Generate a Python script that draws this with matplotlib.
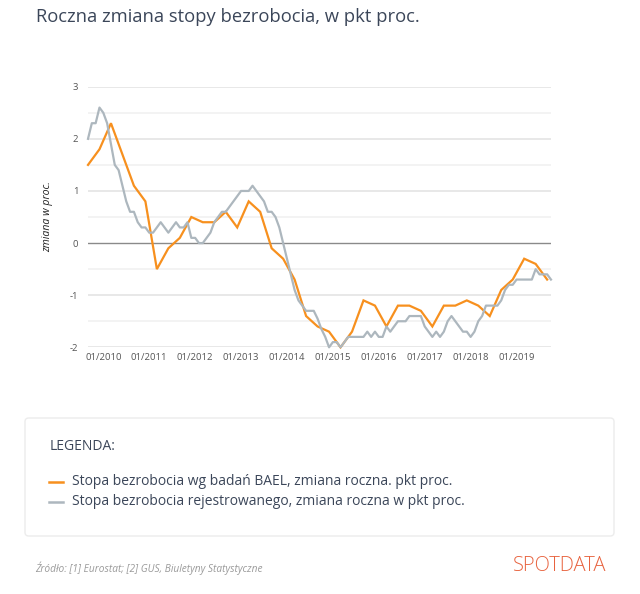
import matplotlib.pyplot as plt
from matplotlib.patches import FancyBboxPatch
import numpy as np

plt.rcParams['font.family'] = ['Open Sans', 'DejaVu Sans']

# BAEL, quarterly, first point 09/2009
bael = [1.5, 1.8, 2.3, 1.7, 1.1, 0.8, -0.5, -0.1, 0.1, 0.5,
        0.4, 0.4, 0.6, 0.3, 0.8, 0.6, -0.1, -0.3, -0.7, -1.4,
        -1.6, -1.7, -2.0, -1.7, -1.1, -1.2, -1.6, -1.2, -1.2, -1.3,
        -1.6, -1.2, -1.2, -1.1, -1.2, -1.4, -0.9, -0.7, -0.3, -0.4,
        -0.7]

# registered unemployment, monthly, first point 09/2009
rejestr = [2.0, 2.3, 2.3, 2.6, 2.5, 2.3, 1.9, 1.5, 1.4, 1.1,
           0.8, 0.6, 0.6, 0.4, 0.3, 0.3, 0.2, 0.2, 0.3, 0.4,
           0.3, 0.2, 0.3, 0.4, 0.3, 0.3, 0.4, 0.1, 0.1, 0.0,
           0.0, 0.1, 0.2, 0.4, 0.5, 0.6, 0.6, 0.7, 0.8, 0.9,
           1.0, 1.0, 1.0, 1.1, 1.0, 0.9, 0.8, 0.6, 0.6, 0.5,
           0.3, 0.0, -0.3, -0.6, -0.9, -1.1, -1.2, -1.3, -1.3, -1.3,
           -1.45, -1.65, -1.8, -2.0, -1.9, -1.9, -2.0, -1.9, -1.8, -1.8,
           -1.8, -1.8, -1.8, -1.7, -1.8, -1.7, -1.8, -1.8, -1.6, -1.7,
           -1.6, -1.5, -1.5, -1.5, -1.4, -1.4, -1.4, -1.4, -1.6, -1.7,
           -1.8, -1.7, -1.8, -1.7, -1.5, -1.4, -1.5, -1.6, -1.7, -1.7,
           -1.8, -1.7, -1.5, -1.4, -1.2, -1.2, -1.2, -1.2, -1.1, -0.9,
           -0.8, -0.8, -0.7, -0.7, -0.7, -0.7, -0.7, -0.5, -0.6, -0.6,
           -0.6, -0.7]

years = list(range(2010, 2020))
tick_labels = ['01/%d' % y for y in years]
start = 2009 + 8 / 12

x_bael = start + 0.25 * np.arange(len(bael))
x_rej = start + np.arange(len(rejestr)) / 12

orange = '#f7901e'
grey = '#adb7be'
textcol = '#3b4659'

fig = plt.figure(figsize=(6.4, 5.94), dpi=100)
ax = fig.add_axes([0.1375, 0.4153, 0.7234, 0.4387])

for v in np.arange(-2, 3.01, 0.5):
    if v == 0:
        continue
    c = '#e4e4e4' if v == int(v) else '#f1f1f1'
    ax.axhline(v, color=c, lw=1.2, zorder=0)
ax.axhline(0, color='#8a8a8a', lw=1.0, zorder=1)

ax.plot(x_bael, bael, color=orange, lw=1.6, zorder=3, clip_on=False,
        solid_joinstyle='miter')
ax.plot(x_rej, rejestr, color=grey, lw=1.6, zorder=4, clip_on=False)

ax.set_xlim(start, x_rej[-1])
ax.set_ylim(-2, 3)
ax.set_yticks([-2, -1, 0, 1, 2, 3])
ax.set_yticklabels(['-2', '-1', '0', '1', '2', '3'])
ax.set_xticks(years)
ax.set_xticklabels(tick_labels)
ax.tick_params(axis='both', length=0, labelsize=6.8, colors='#555555')
ax.tick_params(axis='y', pad=7)
ax.tick_params(axis='x', pad=4)
for s in ax.spines.values():
    s.set_visible(False)
ax.set_ylabel('zmiana w proc.', fontsize=7.6, style='italic',
              color='#222222', labelpad=12)

fig.text(0.057, 0.972, 'Roczna zmiana stopy bezrobocia, w pkt proc.',
         fontsize=13.2, color=textcol, va='center', ha='left')

# legend box
box = FancyBboxPatch((25 / 640, 1 - 536 / 594), 589 / 640, 118 / 594,
                     boxstyle='round,pad=0,rounding_size=0.006',
                     transform=fig.transFigure, facecolor='white',
                     edgecolor='#ececec', lw=1.0)
fig.patches.append(box)
fig.text(50 / 640, 1 - 446.5 / 594, 'LEGENDA:', fontsize=10,
         color=textcol, va='center')
items = [('Stopa bezrobocia wg badań BAEL, zmiana roczna. pkt proc.', orange, 481.5),
         ('Stopa bezrobocia rejestrowanego, zmiana roczna w pkt proc.', grey, 501.5)]
for label, col, yy in items:
    fig.lines.append(plt.Line2D([49 / 640, 63 / 640], [1 - yy / 594] * 2,
                                color=col, lw=1.8, transform=fig.transFigure))
    fig.text(72 / 640, 1 - yy / 594, label, fontsize=10,
             color=textcol, va='center')

fig.text(35 / 640, 1 - 568 / 594,
         'Źródło: [1] Eurostat; [2] GUS, Biuletyny Statystyczne',
         fontsize=7.3, style='italic', color='#9a9a9a', va='center')
fig.text(606 / 640, 1 - 566 / 594, 'SPOTDATA', fontsize=14.5,
         color='#e8633f', va='center', ha='right', fontweight=300)

fig.savefig('out.png', dpi=100)
